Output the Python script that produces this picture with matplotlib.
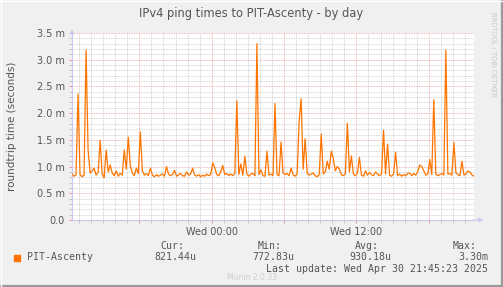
import matplotlib
matplotlib.use("Agg")
import matplotlib.pyplot as plt
import matplotlib.dates as mdates
import pandas as pd

# ping samples in ms, one every 10 minutes, Tue 12:25 -> Wed 21:45
ping_ms = [
    0.86, 0.82, 0.84, 2.36, 0.85, 0.81, 0.84, 3.18, 1.31, 0.88,
    0.92, 0.97, 0.84, 0.89, 1.49, 0.86, 0.79, 1.31, 0.90, 1.03,
    0.88, 0.83, 0.92, 0.82, 0.87, 0.84, 1.31, 0.95, 1.55, 1.02,
    0.88, 0.83, 0.97, 0.87, 1.65, 0.92, 0.84, 0.87, 0.83, 0.97,
    0.84, 0.81, 0.85, 0.82, 0.84, 0.86, 0.82, 1.00, 0.86, 0.83,
    0.85, 0.93, 0.82, 0.84, 0.87, 0.83, 0.82, 0.90, 0.84, 0.86,
    0.97, 0.84, 0.82, 0.85, 0.81, 0.84, 0.82, 0.86, 0.83, 0.85,
    1.07, 0.98, 0.85, 0.83, 0.90, 1.02, 0.85, 0.87, 0.83, 0.86,
    0.83, 0.87, 2.23, 0.85, 1.05, 0.84, 1.19, 0.86, 0.82, 0.86,
    0.87, 0.83, 3.30, 0.85, 0.94, 0.83, 0.82, 1.29, 0.84, 0.86,
    0.83, 2.18, 0.85, 0.83, 1.46, 0.88, 0.85, 0.87, 0.83, 0.97,
    0.85, 0.82, 0.86, 1.84, 2.27, 0.95, 1.52, 0.87, 0.84, 0.86,
    0.88, 0.83, 0.81, 0.85, 1.61, 0.86, 0.90, 1.10, 0.95, 1.29,
    1.15, 0.92, 1.00, 0.95, 0.85, 0.83, 0.86, 1.81, 0.90, 1.20,
    0.86, 0.83, 0.88, 1.17, 0.84, 0.82, 0.92, 0.84, 0.89, 0.85,
    0.83, 0.90, 0.86, 0.83, 0.86, 1.68, 0.86, 1.42, 0.84, 0.82,
    0.86, 1.27, 0.83, 0.86, 0.82, 0.85, 0.83, 0.87, 0.88, 0.83,
    0.87, 0.84, 0.90, 1.03, 1.00, 0.92, 0.84, 0.86, 1.13, 0.85,
    2.25, 0.86, 0.83, 0.85, 0.87, 0.84, 3.18, 0.86, 0.87, 0.84,
    1.45, 0.88, 0.85, 0.83, 1.10, 0.84, 0.86, 0.92, 0.90, 0.84,
    0.82,
]
times = pd.date_range("2025-04-29 12:25", periods=len(ping_ms), freq="10min")
yticks = [0.0, 0.5, 1.0, 1.5, 2.0, 2.5, 3.0, 3.5]

W, H = 503, 287
fig = plt.figure(figsize=(W / 100, H / 100), dpi=100, facecolor="#f0f0f0")
ax = fig.add_axes([72 / W, 1 - 220 / H, 402 / W, 187 / H])
ax.set_facecolor("white")

ax.plot(times, ping_ms, color="#ff7400", lw=0.9, zorder=3)

ax.set_xlim(times[0], times[-1])
ax.set_ylim(0, 3.5)

ax.set_yticks(yticks)
ax.set_yticklabels(["0.0"] + ["%.1f m" % v for v in yticks[1:]])
ax.set_yticks([v / 10 for v in range(36)], minor=True)
ax.xaxis.set_major_locator(mdates.HourLocator(byhour=[0, 6, 12, 18]))
ax.xaxis.set_minor_locator(mdates.HourLocator(interval=1))
ax.xaxis.set_major_formatter(
    plt.FuncFormatter(lambda v, p: mdates.num2date(v).strftime("Wed %H:%M")
                      if mdates.num2date(v).hour in (0, 12) else ""))

ax.grid(True, which="minor", color="#c8c8c8", ls=(0, (1, 1)), lw=0.6, zorder=1)
ax.grid(True, which="major", color="#f0a0a0", ls=(0, (1, 1)), lw=0.6, zorder=2)
ax.tick_params(which="both", direction="out", length=2, width=0.6,
               labelsize=7, labelcolor="#555555", pad=3)
ax.tick_params(which="major", color="#f08080")
ax.tick_params(which="minor", color="#bbbbbb")

for s in ["top", "right"]:
    ax.spines[s].set_visible(False)
for s in ["left", "bottom"]:
    ax.spines[s].set_color("#c8c8f0")
    ax.spines[s].set_linewidth(0.8)
ax.annotate("", xy=(0, 1.035), xytext=(0, 0.98), xycoords="axes fraction",
            arrowprops=dict(arrowstyle="-|>", color="#c8c8f0", lw=0.8,
                            mutation_scale=6))
ax.annotate("", xy=(1.03, 0), xytext=(0.99, 0), xycoords="axes fraction",
            arrowprops=dict(arrowstyle="-|>", color="#c8c8f0", lw=0.8,
                            mutation_scale=6))

ax.set_ylabel("roundtrip time (seconds)", fontsize=7.5, color="#555555")
ax.yaxis.set_label_coords(-55 / 402, 0.5)

fig.text(0.5, 1 - 13 / H, "IPv4 ping times to PIT-Ascenty - by day",
         ha="center", va="center", fontsize=8.3, color="#555555")
fig.text(493 / W, 1 - 55 / H, "RRDTOOL / TOBI OETIKER", rotation=-90,
         ha="center", va="center", fontsize=4.8, color="#c8c8c8")

mono = dict(family="DejaVu Sans Mono", fontsize=7.1, color="#555555", va="center")
fig.patches.append(plt.Rectangle((14 / W, 1 - 261 / H), 6 / W, 6 / H,
                                 transform=fig.transFigure, color="#ff7400"))
fig.text(27 / W, 1 - 257 / H, "PIT-Ascenty", ha="left", **mono)
heads = [("Cur:", 160.7), ("Min:", 257.7), ("Avg:", 355.3), ("Max:", 452.3)]
vals = [("821.44u", 154.3), ("772.83u", 252.3), ("930.18u", 349.3), ("3.30m", 458.3)]
for t, x in heads:
    fig.text(x / W, 1 - 245.7 / H, t, ha="left", **mono)
for t, x in vals:
    fig.text(x / W, 1 - 257 / H, t, ha="left", **mono)
fig.text(488.5 / W, 1 - 269.3 / H, "Last update: Wed Apr 30 21:45:23 2025",
         ha="right", **mono)
fig.text(251.7 / W, 1 - 277 / H, "Munin 2.0.33", ha="center", va="center",
         fontsize=5.5, color="#cfcfcf")

# image frame
fig.add_artist(plt.Line2D([0, 1], [1 / H, 1 / H], color="#9a9a9a", lw=1.6))
fig.add_artist(plt.Line2D([1 - 1 / W, 1 - 1 / W], [0, 1], color="#9a9a9a", lw=1.6))
fig.add_artist(plt.Line2D([0, 1], [1 - 0.5 / H, 1 - 0.5 / H], color="#ffffff", lw=1))
fig.add_artist(plt.Line2D([0.5 / W, 0.5 / W], [0, 1], color="#ffffff", lw=1))

fig.savefig("out.png", dpi=100, facecolor=fig.get_facecolor())
